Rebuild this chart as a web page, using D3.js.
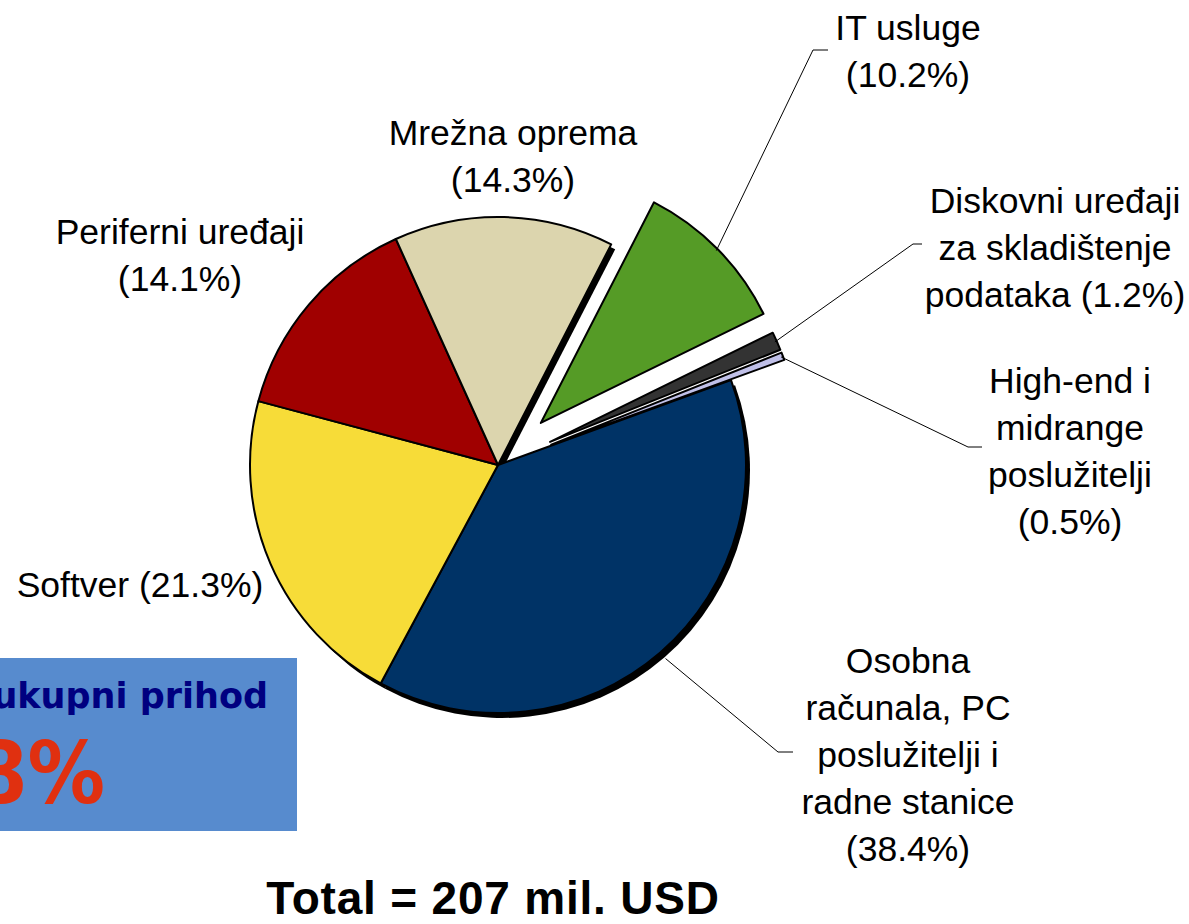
<!DOCTYPE html>
<html>
<head>
<meta charset="utf-8">
<script src="https://cdn.jsdelivr.net/npm/d3@7"></script>
<style>
  body { margin: 0; background: #fff; }
  svg { display: block; }
</style>
</head>
<body>
<svg id="chart"></svg>
<script>
// Data
const categories = [
  "Osobna računala, PC poslužitelji i radne stanice",
  "Softver",
  "Periferni uređaji",
  "Mrežna oprema",
  "IT usluge",
  "Diskovni uređaji za skladištenje podataka",
  "High-end i midrange poslužitelji"
];
const shares = [38.4, 21.3, 14.1, 14.3, 10.2, 1.2, 0.5];
const labelLines = [
  ["Osobna", "računala, PC", "poslužitelji i", "radne stanice", "(38.4%)"],
  ["Softver (21.3%)"],
  ["Periferni uređaji", "(14.1%)"],
  ["Mrežna oprema", "(14.3%)"],
  ["IT usluge", "(10.2%)"],
  ["Diskovni uređaji", "za skladištenje", "podataka (1.2%)"],
  ["High-end i", "midrange", "poslužitelji", "(0.5%)"]
];
const totalText = "Total = 207 mil. USD";
const boxLine1 = "ukupni prihod";
const boxLine2 = "8%";

// Styling / layout
const colors = ["#003366", "#F7DC38", "#A00000", "#DCD5AE", "#559B26", "#333333", "#C0C0E8"];
const explode = [0, 0, 0, 0, 60, 57, 57];
// label anchor (x centre, first baseline) and leader elbow / end
const labelPos = [
  {x: 908, y: 673, leader: [[778, 752], [793, 752]]},
  {x: 140, y: 597},
  {x: 180, y: 244},
  {x: 513, y: 145},
  {x: 908, y: 40, leader: [[813, 50], [828, 50]]},
  {x: 1055, y: 213, leader: [[913, 244], [922, 244]]},
  {x: 1070, y: 393, leader: [[968, 447], [982, 447]]}
];

const width = 1189, height = 924;
const cx = 498, cy = 465, r = 248;
const lineH = 47;

const svg = d3.select("#chart").attr("width", width).attr("height", height);

const data = categories.map((c, i) => ({name: c, value: shares[i], i: i}));

const startA = 70 * Math.PI / 180;
const pie = d3.pie().sort(null).value(d => d.value)
  .startAngle(startA).endAngle(startA + 2 * Math.PI);
const arcs = pie(data);
const arc = d3.arc().innerRadius(0).outerRadius(r);

function offset(a, dist) {
  const mid = (a.startAngle + a.endAngle) / 2;
  return [Math.sin(mid) * dist, -Math.cos(mid) * dist];
}

const g = svg.append("g").attr("transform", `translate(${cx},${cy})`);

// drop shadow for the main (non-exploded) pie
g.append("g").attr("transform", "translate(4,5)")
  .selectAll("path")
  .data(arcs.filter(a => explode[a.data.i] === 0))
  .join("path")
  .attr("d", arc)
  .attr("fill", "#000");

g.append("g").selectAll("path")
  .data(arcs)
  .join("path")
  .attr("transform", a => `translate(${offset(a, explode[a.data.i])})`)
  .attr("d", arc)
  .attr("fill", a => colors[a.data.i])
  .attr("stroke", "#000")
  .attr("stroke-width", 2)
  .attr("stroke-linejoin", "round");

// leader lines
const withLeader = arcs.filter(a => labelPos[a.data.i].leader);
svg.append("g").selectAll("polyline")
  .data(withLeader)
  .join("polyline")
  .attr("points", a => {
    const mid = (a.startAngle + a.endAngle) / 2;
    const o = offset(a, explode[a.data.i]);
    const rr = explode[a.data.i] === 0 ? r + 8 : r - 2;
    const p0 = [cx + o[0] + Math.sin(mid) * rr, cy + o[1] - Math.cos(mid) * rr];
    const pts = [p0].concat(labelPos[a.data.i].leader);
    return pts.map(p => p.join(",")).join(" ");
  })
  .attr("fill", "none")
  .attr("stroke", "#000")
  .attr("stroke-width", 1);

// labels
const labels = svg.append("g")
  .attr("font-family", "'Liberation Sans', Arial, sans-serif")
  .attr("font-size", 35.5)
  .attr("fill", "#000")
  .attr("text-anchor", "middle");

labels.selectAll("text")
  .data(data)
  .join("text")
  .attr("x", d => labelPos[d.i].x)
  .attr("y", d => labelPos[d.i].y)
  .selectAll("tspan")
  .data(d => labelLines[d.i].map((t, k) => ({t, k, x: labelPos[d.i].x})))
  .join("tspan")
  .attr("x", s => s.x)
  .attr("dy", s => s.k === 0 ? 0 : lineH)
  .text(s => s.t);

// blue info box (cut at left edge)
svg.append("rect")
  .attr("x", 0).attr("y", 658)
  .attr("width", 297).attr("height", 173)
  .attr("fill", "#578BCE");

svg.append("text")
  .attr("x", 268).attr("y", 708)
  .attr("text-anchor", "end")
  .attr("font-family", "'DejaVu Sans', sans-serif")
  .attr("font-weight", "bold")
  .attr("font-size", 35)
  .attr("fill", "#000080")
  .text(boxLine1);

svg.append("text")
  .attr("x", 105).attr("y", 803)
  .attr("text-anchor", "end")
  .attr("font-family", "'DejaVu Sans Condensed', 'DejaVu Sans', sans-serif")
  .attr("font-weight", "bold")
  .attr("font-size", 86)
  .attr("fill", "#E03010")
  .text(boxLine2);

// total
svg.append("text")
  .attr("x", 493).attr("y", 914)
  .attr("text-anchor", "middle")
  .attr("font-family", "'Liberation Sans', Arial, sans-serif")
  .attr("font-weight", "bold")
  .attr("font-size", 46)
  .attr("letter-spacing", 0.8)
  .attr("fill", "#000")
  .text(totalText);
</script>
</body>
</html>
